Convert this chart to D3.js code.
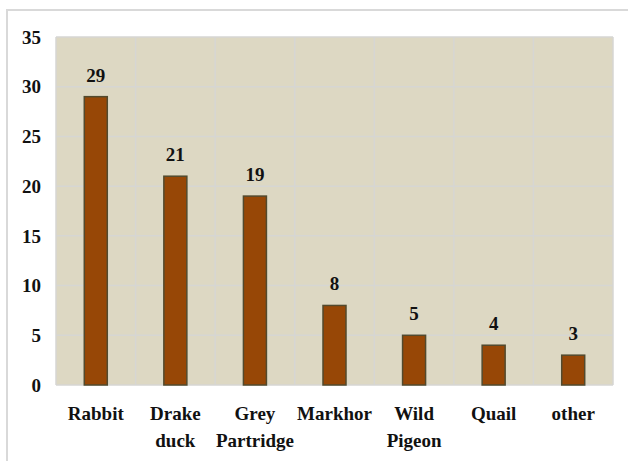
<!DOCTYPE html>
<html>
<head>
<meta charset="utf-8">
<script src="https://cdn.jsdelivr.net/npm/d3@7"></script>
<style>
	body { margin: 0; background: #ffffff; }
	text { font-family: "Liberation Serif", "Times New Roman", serif; font-weight: bold; fill: #111; }
</style>
</head>
<body>
<div id="chart"></div>
<script>
	//data
	var categories = [["Rabbit"], ["Drake", "duck"], ["Grey", "Partridge"], ["Markhor"], ["Wild", "Pigeon"], ["Quail"], ["other"]];
	var counts = [29, 21, 19, 8, 5, 4, 3];
	var yTicks = [0, 5, 10, 15, 20, 25, 30, 35];

	//size
	var w = 628;
	var h = 461;
	//plot box (note: "top" is taken by window.top, so prefix these)
	var plotL = 56, plotR = 613, plotT = 37, plotB = 385;

	var svg = d3.select("#chart")
				.append("svg")
				.attr("width", w)
				.attr("height", h);

	//outer frame (runs off the picture on right and bottom)
	svg.append("rect")
	   .attr("x", 7).attr("y", 10)
	   .attr("width", 700).attr("height", 500)
	   .attr("fill", "none")
	   .attr("stroke", "#d9d9d9")
	   .attr("stroke-width", 2);

	var names = categories.map(function(c) { return c.join(" "); });

	var x = d3.scaleBand()
			  .domain(names)
			  .range([plotL, plotR]);

	var y = d3.scaleLinear()
			  .domain([0, 35])
			  .range([plotB, plotT]);

	//plot background
	svg.append("rect")
	   .attr("x", plotL).attr("y", plotT)
	   .attr("width", plotR - plotL).attr("height", plotB - plotT)
	   .attr("fill", "#ddd8c3");

	//horizontal grid
	svg.selectAll("line.hgrid")
	   .data(yTicks)
	   .enter()
	   .append("line")
	   .attr("class", "hgrid")
	   .attr("x1", plotL).attr("x2", plotR)
	   .attr("y1", function(d) { return y(d); })
	   .attr("y2", function(d) { return y(d); })
	   .attr("stroke", "#d6d6d3")
	   .attr("stroke-width", 1.5);

	//vertical grid at category edges
	var edges = names.map(function(n) { return x(n); }).concat([plotR]);
	svg.selectAll("line.vgrid")
	   .data(edges)
	   .enter()
	   .append("line")
	   .attr("class", "vgrid")
	   .attr("x1", function(d) { return d; })
	   .attr("x2", function(d) { return d; })
	   .attr("y1", plotT).attr("y2", plotB)
	   .attr("stroke", "#d6d6d3")
	   .attr("stroke-width", 1.5);

	//y axis labels
	svg.selectAll("text.ytick")
	   .data(yTicks)
	   .enter()
	   .append("text")
	   .attr("class", "ytick")
	   .attr("x", 41)
	   .attr("y", function(d) { return y(d); })
	   .attr("dy", "0.35em")
	   .attr("text-anchor", "end")
	   .attr("font-size", 19)
	   .text(function(d) { return d; });

	//bars
	var barW = 23;
	svg.selectAll("rect.bar")
	   .data(counts)
	   .enter()
	   .append("rect")
	   .attr("class", "bar")
	   .attr("x", function(d, i) { return x(names[i]) + x.bandwidth() / 2 - barW / 2; })
	   .attr("y", function(d) { return y(d); })
	   .attr("width", barW)
	   .attr("height", function(d) { return plotB - y(d); })
	   .attr("fill", "#974706")
	   .attr("stroke", "#524a2e")
	   .attr("stroke-width", 1.5);

	//value labels
	svg.selectAll("text.val")
	   .data(counts)
	   .enter()
	   .append("text")
	   .attr("class", "val")
	   .attr("x", function(d, i) { return x(names[i]) + x.bandwidth() / 2; })
	   .attr("y", function(d) { return y(d) - 15; })
	   .attr("text-anchor", "middle")
	   .attr("font-size", 19)
	   .text(function(d) { return d; });

	//category labels
	var cat = svg.selectAll("text.cat")
	   .data(categories)
	   .enter()
	   .append("text")
	   .attr("class", "cat")
	   .attr("text-anchor", "middle")
	   .attr("font-size", 19);

	cat.each(function(d, i) {
		var t = d3.select(this);
		d.forEach(function(line, j) {
			t.append("tspan")
			 .attr("x", x(names[i]) + x.bandwidth() / 2)
			 .attr("y", 420 + j * 26.5)
			 .text(line);
		});
	});
</script>
</body>
</html>
